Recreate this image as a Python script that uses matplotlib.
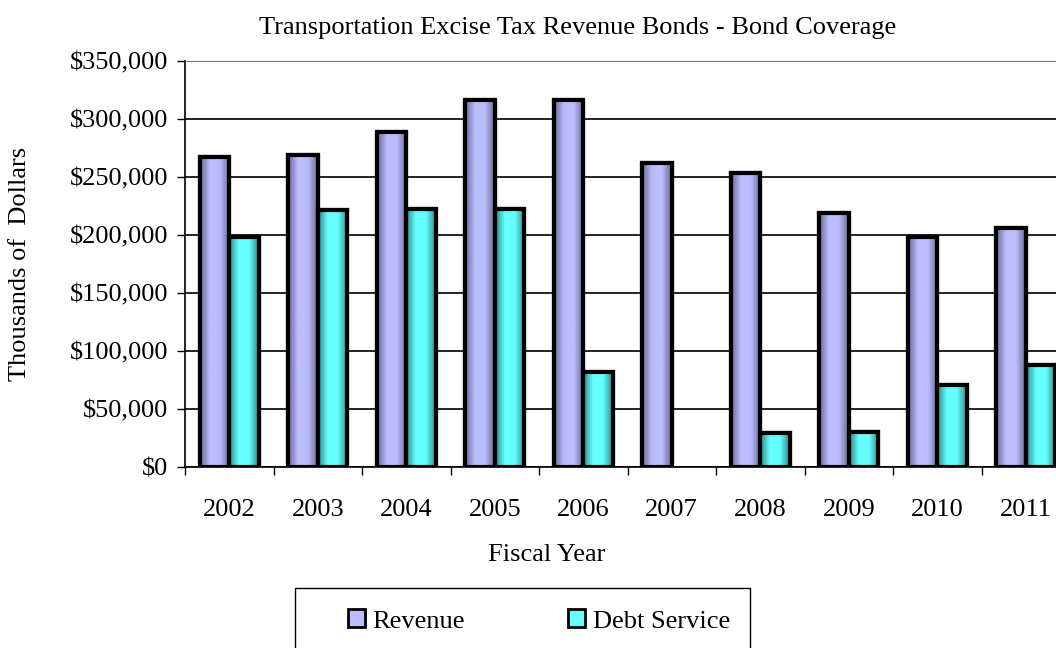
import numpy as np
import matplotlib
matplotlib.use("Agg")
import matplotlib.pyplot as plt
from matplotlib.patches import Rectangle, Patch
from matplotlib.colors import LinearSegmentedColormap
from matplotlib.ticker import FuncFormatter, MultipleLocator

years = ["2002", "2003", "2004", "2005", "2006", "2007", "2008", "2009", "2010", "2011"]
revenue = [267500, 268700, 288800, 316400, 316100, 261800, 253200, 219000, 198500, 205800]
debt_service = [198500, 221300, 222400, 222400, 81900, 0, 29300, 30200, 70700, 87700]

plt.rcParams["font.family"] = ["Liberation Serif", "DejaVu Serif"]
FS = 19

W, H = 1056, 648
fig = plt.figure(figsize=(W / 100, H / 100), dpi=100)
# plot area runs a bit past the right edge, like the original
AX_L, AX_R, AX_T, AX_B = 185, 1070, 61, 467
ax = fig.add_axes([AX_L / W, 1 - AX_B / H, (AX_R - AX_L) / W, (AX_B - AX_T) / H])

x = np.arange(len(years))
bw = 1 / 3


def shaded_bars(xpos, vals, edge_col, mid_col):
    cmap = LinearSegmentedColormap.from_list("g", [edge_col, mid_col, mid_col, edge_col])
    grad = np.linspace(0, 1, 64).reshape(1, -1)
    bars = ax.bar(xpos, vals, width=bw, align="edge", color=mid_col,
                  edgecolor="black", linewidth=3, zorder=3)
    for b in bars:
        if b.get_height() <= 0:
            b.set_visible(False)
            continue
        x0, y0 = b.get_x(), b.get_y()
        im = ax.imshow(grad, cmap=cmap, aspect="auto", zorder=3.5,
                       extent=(x0, x0 + b.get_width(), y0, y0 + b.get_height()))
        im.set_clip_path(b)
        # redraw outline on top of gradient
        ax.add_patch(Rectangle((x0, y0), b.get_width(), b.get_height(), fill=False,
                               edgecolor="black", linewidth=3, zorder=4))
    return bars


shaded_bars(x - bw, revenue, "#6a6a98", "#bcbcff")
shaded_bars(x, debt_service, "#2c8a8a", "#66ffff")

ax.set_xlim(-0.5, len(years) - 0.5)
ax.set_ylim(0, 350000)
ax.yaxis.set_major_locator(MultipleLocator(50000))
ax.yaxis.set_major_formatter(FuncFormatter(lambda v, p: f"${v:,.0f}"))
ax.grid(axis="y", color="black", linewidth=1.2, zorder=0)
ax.set_axisbelow(True)

ax.set_xticks(x)
ax.set_xticklabels(years)
ax.set_xticks(np.arange(len(years) + 1) - 0.5, minor=True)
ax.tick_params(axis="x", which="major", length=0, pad=23, labelsize=FS)
ax.tick_params(axis="x", which="minor", length=6, width=1, direction="out")
ax.tick_params(axis="y", length=6, width=1, direction="out", pad=6, labelsize=FS)

ax.spines["top"].set_color("#777777")
ax.spines["right"].set_visible(False)
ax.spines["left"].set_linewidth(1.2)
ax.spines["bottom"].set_linewidth(1.2)

ax.set_ylabel("Thousands of  Dollars", fontsize=FS, va="center")
ax.yaxis.set_label_coords((20 - AX_L) / (AX_R - AX_L), 0.5)
ax.set_xlabel("Fiscal Year", fontsize=FS, va="center")
ax.xaxis.set_label_coords((547 - AX_L) / (AX_R - AX_L), (AX_B - 555) / (AX_B - AX_T))
fig.text(578 / W, 1 - 28 / H, "Transportation Excise Tax Revenue Bonds - Bond Coverage",
         ha="center", va="center", fontsize=FS)

# legend box
fig.patches.append(Rectangle((295 / W, -0.05), (750 - 295) / W, 0.05 + 1 - 588 / H,
                             transform=fig.transFigure, fill=False,
                             edgecolor="black", linewidth=1))
handles = [Patch(facecolor="#bcbcff", edgecolor="black", linewidth=2),
           Patch(facecolor="#66ffff", edgecolor="black", linewidth=2)]
fig.legend(handles, ["Revenue", "Debt Service"], ncol=2, frameon=False,
           loc="center", bbox_to_anchor=(539 / W, 1 - 621 / H),
           fontsize=FS, handlelength=0.65, handleheight=0.65, handletextpad=0.3,
           columnspacing=3.9)

fig.savefig("out.png", dpi=100)
